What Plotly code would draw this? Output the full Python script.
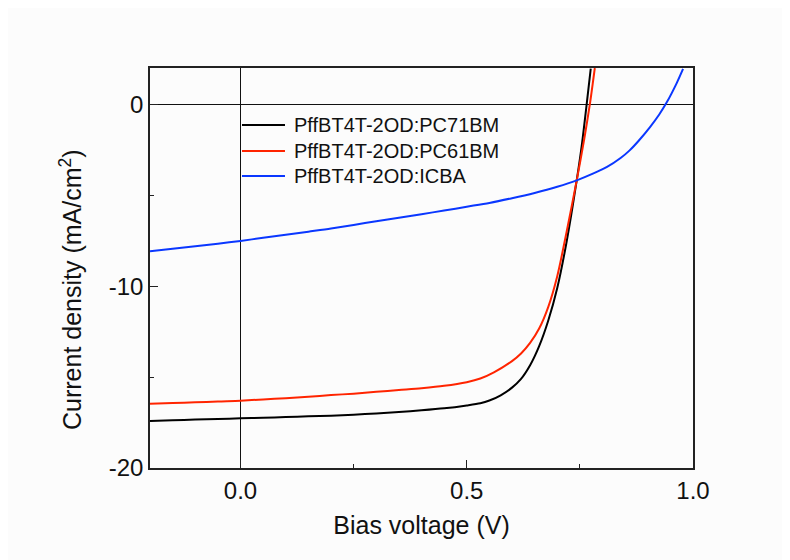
import plotly.graph_objects as go

# ---- data ----
v_pc71 = [-0.2, -0.15, -0.1, -0.05, 0.0, 0.05, 0.1, 0.15, 0.2, 0.25, 0.3, 0.35, 0.4, 0.45, 0.5,
          0.53, 0.55, 0.575, 0.6, 0.62, 0.64, 0.66, 0.68, 0.70, 0.72, 0.743, 0.755, 0.765, 0.774]
j_pc71 = [-17.42, -17.38, -17.33, -17.30, -17.27, -17.24, -17.20, -17.16, -17.12, -17.07, -17.0, -16.92,
          -16.83, -16.72, -16.56, -16.44, -16.29, -16.0, -15.58, -15.1, -14.35, -13.3, -11.9, -10.1,
          -7.65, -4.18, -2.1, 0.0, 1.96]

v_pc61 = [-0.2, -0.15, -0.1, -0.05, 0.0, 0.05, 0.1, 0.15, 0.2, 0.25, 0.3, 0.35, 0.4, 0.45, 0.5,
          0.53, 0.56, 0.6, 0.62, 0.64, 0.66, 0.68, 0.70, 0.72, 0.743, 0.76, 0.772, 0.783]
j_pc61 = [-16.46, -16.43, -16.39, -16.34, -16.30, -16.23, -16.16, -16.08, -15.99, -15.91, -15.81,
          -15.71, -15.61, -15.48, -15.28, -15.08, -14.74, -14.12, -13.7, -13.12, -12.33, -11.15, -9.45,
          -7.1, -4.18, -1.85, 0.0, 2.0]

v_icba = [-0.2, -0.15, -0.1, -0.05, 0.0, 0.05, 0.1, 0.15, 0.2, 0.25, 0.3, 0.35, 0.4, 0.45, 0.5,
          0.55, 0.6, 0.65, 0.7, 0.743, 0.78, 0.81, 0.84, 0.86, 0.88, 0.905, 0.925, 0.942, 0.964, 0.978]
j_icba = [-8.08, -7.94, -7.80, -7.66, -7.51, -7.34, -7.17, -7.00, -6.83, -6.63, -6.43, -6.24, -6.04,
          -5.84, -5.63, -5.42, -5.16, -4.87, -4.53, -4.18, -3.80, -3.44, -2.95, -2.53, -2.0, -1.25,
          -0.57, 0.11, 1.17, 1.95]

names = ["PffBT4T-2OD:PC71BM", "PffBT4T-2OD:PC61BM", "PffBT4T-2OD:ICBA"]
colors = ["#000000", "#FF2400", "#0A37FF"]

x_tickvals = [0.0, 0.5, 1.0]
x_ticktext = ["0.0", "0.5", "1.0"]
y_tickvals = [0, -10, -20]
y_ticktext = ["0", "-10", "-20"]

x_title = "Bias voltage (V)"
y_title = "Current density (mA/cm<sup>2</sup>)"

font_family = "Liberation Sans, Arial, sans-serif"

fig = go.Figure()
for v, j, n, c in zip([v_pc71, v_pc61, v_icba], [j_pc71, j_pc61, j_icba], names, colors):
    fig.add_trace(go.Scatter(x=v, y=j, mode="lines", name=n, showlegend=False,
                             line=dict(color=c, width=2, shape="spline", smoothing=0.8)))

# legend drawn as paper-positioned samples + text (compact row spacing as in the reference)
leg_y = [0.8575, 0.7925, 0.73]
for n, c, yy in zip(names, colors, leg_y):
    fig.add_shape(type="line", xref="paper", yref="paper", x0=0.1694, x1=0.2486, y0=yy, y1=yy,
                  line=dict(color=c, width=2))
    fig.add_annotation(xref="paper", yref="paper", x=0.2615, y=yy, text=n, showarrow=False,
                       xanchor="left", yanchor="middle",
                       font=dict(family=font_family, size=20, color="#111111"))

# y-axis title (rotated), placed like the reference
fig.add_annotation(xref="paper", yref="paper", x=-0.1455, y=0.4475, text=y_title, showarrow=False,
                   textangle=-90, xanchor="center", yanchor="middle",
                   font=dict(family=font_family, size=25, color="#111111"))

axis_common = dict(
    showline=True, linecolor="#222222", linewidth=1.5, mirror=True,
    ticks="inside", ticklen=8, tickwidth=1, tickcolor="#222222",
    showgrid=False, zeroline=True, zerolinecolor="#111111", zerolinewidth=1,
    tickfont=dict(family=font_family, size=24, color="#111111"),
)

fig.update_xaxes(range=[-0.2, 1.0], tickvals=x_tickvals, ticktext=x_ticktext,
                 minor=dict(tickvals=[0.25, 0.75], ticks="inside", ticklen=4, tickcolor="#222222"),
                 title=dict(text=x_title, font=dict(family=font_family, size=25, color="#111111"),
                            standoff=14),
                 **axis_common)
fig.update_yaxes(range=[-20, 2], tickvals=y_tickvals, ticktext=y_ticktext,
                 minor=dict(tickvals=[-5, -15], ticks="inside", ticklen=4, tickcolor="#222222"),
                 **axis_common)

fig.update_layout(
    width=790, height=560,
    margin=dict(l=142, r=105, t=60, b=100),
    paper_bgcolor="#FCFCFC", plot_bgcolor="#FCFCFC",
    showlegend=False,
)

fig.write_html("out.html")
